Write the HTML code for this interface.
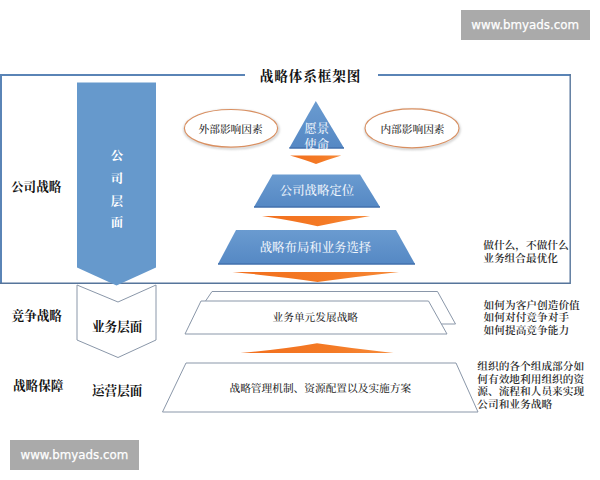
<!DOCTYPE html>
<html lang="zh-CN">
<head>
<meta charset="utf-8">
<title>战略体系框架图</title>
<style>
html,body{margin:0;padding:0;background:#fff;}
body{width:600px;height:480px;overflow:hidden;position:relative;}
svg{position:absolute;left:0;top:0;display:block;}
.serif{font-family:"Liberation Serif","Noto Serif CJK SC",serif;}
.sans{font-family:"Liberation Sans","Noto Sans CJK SC",sans-serif;}
.lbl{font-weight:700;font-size:12.6px;fill:#111;}
.wt{fill:#fff;font-size:12.4px;font-weight:500;}
.note{font-size:10.7px;fill:#2a2a2a;font-weight:600;}
.wm{font-family:"DejaVu Sans","Liberation Sans",sans-serif;font-size:12.6px;fill:#fff;font-weight:400;stroke:#fff;stroke-width:0.25px;}
</style>
</head>
<body>
<svg width="600" height="480" viewBox="0 0 600 480">
  <defs>
    <linearGradient id="gb" x1="0" y1="0" x2="0" y2="1">
      <stop offset="0" stop-color="#6a9bd0"/>
      <stop offset="1" stop-color="#5588c4"/>
    </linearGradient>
    <linearGradient id="go" x1="0" y1="0" x2="1" y2="0">
      <stop offset="0" stop-color="#f26f1e"/>
      <stop offset="0.6" stop-color="#f47a25"/>
      <stop offset="1" stop-color="#f68a3a"/>
    </linearGradient>
    <filter id="sh" x="-10%" y="-10%" width="120%" height="130%">
      <feGaussianBlur stdDeviation="1"/>
    </filter>
  </defs>

  <rect x="0" y="0" width="600" height="480" fill="#ffffff"/>

  <!-- top watermark -->
  <rect x="461" y="10" width="129" height="30" fill="#aaaaaa"/>
  <text class="wm" x="471.3" y="29" textLength="107.7" lengthAdjust="spacingAndGlyphs">www.bmyads.com</text>

  <!-- bottom watermark -->
  <rect x="10" y="440" width="129" height="30" fill="#aaaaaa"/>
  <text class="wm" x="20.5" y="459" textLength="107.7" lengthAdjust="spacingAndGlyphs">www.bmyads.com</text>

  <!-- outer frame -->
  <path d="M245 75 H1 V283.5" fill="none" stroke="#5a84b6" stroke-width="2"/>
  <path d="M378 75 H570.5" fill="none" stroke="#5a84b6" stroke-width="2"/>
  <path d="M0 283.3 H570.2 V74" fill="none" stroke="#56759b" stroke-width="1.4"/>

  <!-- title -->
  <text class="serif" x="310.5" y="80.6" text-anchor="middle" font-size="13.6" font-weight="700" fill="#111" letter-spacing="0.9">战略体系框架图</text>

  <!-- business layer chevron (outline) -->
  <path d="M77 285 L118 302 L156 285 V340 L118 357.5 L77 340 Z" fill="#fff" stroke="#8a97a9" stroke-width="1"/>

  <!-- blue column arrow -->
  <path d="M77 82.5 H156 V267.5 L116.5 285.5 L77 267.5 Z" fill="#6699cc"/>
  <g class="serif wt" text-anchor="middle" style="font-weight:700">
    <text x="117" y="159.5">公</text>
    <text x="117" y="183">司</text>
    <text x="117" y="206">层</text>
    <text x="117" y="226.5">面</text>
  </g>

  <!-- left labels -->
  <g class="serif lbl">
    <text x="11" y="190.5">公司战略</text>
    <text x="11.5" y="320">竞争战略</text>
    <text x="13" y="389.5">战略保障</text>
    <text x="92" y="330.5">业务层面</text>
    <text x="92" y="394.5">运营层面</text>
  </g>

  <!-- ellipses -->
  <ellipse cx="231.5" cy="129.5" rx="47" ry="19" fill="none" stroke="#c9c9c9" stroke-width="2" filter="url(#sh)"/>
  <ellipse cx="231" cy="128.3" rx="46.6" ry="18.8" fill="#fff" stroke="#d98f60" stroke-width="1.15"/>
  <ellipse cx="412.5" cy="129.5" rx="47" ry="19.5" fill="none" stroke="#c9c9c9" stroke-width="2" filter="url(#sh)"/>
  <ellipse cx="412" cy="128.3" rx="47" ry="19.5" fill="#fff" stroke="#d98f60" stroke-width="1.15"/>
  <g class="serif note" text-anchor="middle" style="font-weight:500">
    <text x="230.6" y="133.3">外部影响因素</text>
    <text x="412.5" y="133.3">内部影响因素</text>
  </g>

  <!-- pyramid -->
  <path d="M315.8 101 L344 148 H289.3 Z" fill="url(#gb)"/>
  <path d="M272.5 174.5 H360 L380 207 H254 Z" fill="url(#gb)"/>
  <path d="M236 230 H396 L415 264 H218 Z" fill="url(#gb)"/>
  <path d="M289.3 148 H344 M254 207 H380 M218 264 H415" stroke="#4270ad" stroke-width="1.4" fill="none"/>

  <!-- orange arrows -->
  <path d="M290 155.5 H341.3 Q328 159.6 316 164 Q305 159.8 290 155.5 Z" fill="url(#go)"/>
  <path d="M262 216 H370 Q343 220.9 317.5 226.3 Q295 221 262 216 Z" fill="url(#go)"/>
  <path d="M232.5 272 H399 Q357 276.6 317.5 282 Q283 276.8 232.5 272 Z" fill="url(#go)"/>
  <path d="M240.5 353 H393.5 Q354 348.6 317 343.2 Q286 348.8 240.5 353 Z" fill="url(#go)"/>

  <g class="serif wt" text-anchor="middle" style="fill:#eef4fb">
    <text x="316.7" y="133.3">愿景</text>
    <text x="316.7" y="148.5">使命</text>
    <text x="317" y="195.3">公司战略定位</text>
    <text x="315.5" y="252.3">战略布局和业务选择</text>
  </g>

  <!-- business unit parallelograms (outline) -->
  <path d="M212 291.5 H437.5 L455.5 324 H190 Z" fill="#fff" stroke="#8a97a9" stroke-width="1"/>
  <path d="M201 301 H428.5 L447 334 H185 Z" fill="#fff" stroke="#8a97a9" stroke-width="1"/>
  <text class="serif note" x="315.3" y="321.3" text-anchor="middle" style="font-weight:500">业务单元发展战略</text>

  <!-- operations trapezoid -->
  <path d="M186 363 H456 L478 412 H162.5 Z" fill="#fff" stroke="#8a97a9" stroke-width="1"/>
  <text class="serif note" x="320.3" y="391.5" text-anchor="middle" style="font-weight:500">战略管理机制、资源配置以及实施方案</text>

  <!-- right notes -->
  <g class="serif note">
    <text x="483.2" y="248.6">做什么，不做什么</text>
    <text x="483.2" y="261.8">业务组合最优化</text>
    <text x="483.6" y="309.1">如何为客户创造价值</text>
    <text x="483.6" y="321.3">如何对付竞争对手</text>
    <text x="483.6" y="333.5">如何提高竞争能力</text>
    <text x="477.3" y="369.8">组织的各个组成部分如</text>
    <text x="477.3" y="382.5">何有效地利用组织的资</text>
    <text x="477.3" y="395.2">源、流程和人员来实现</text>
    <text x="477.3" y="407.9">公司和业务战略</text>
  </g>
</svg>
</body>
</html>
